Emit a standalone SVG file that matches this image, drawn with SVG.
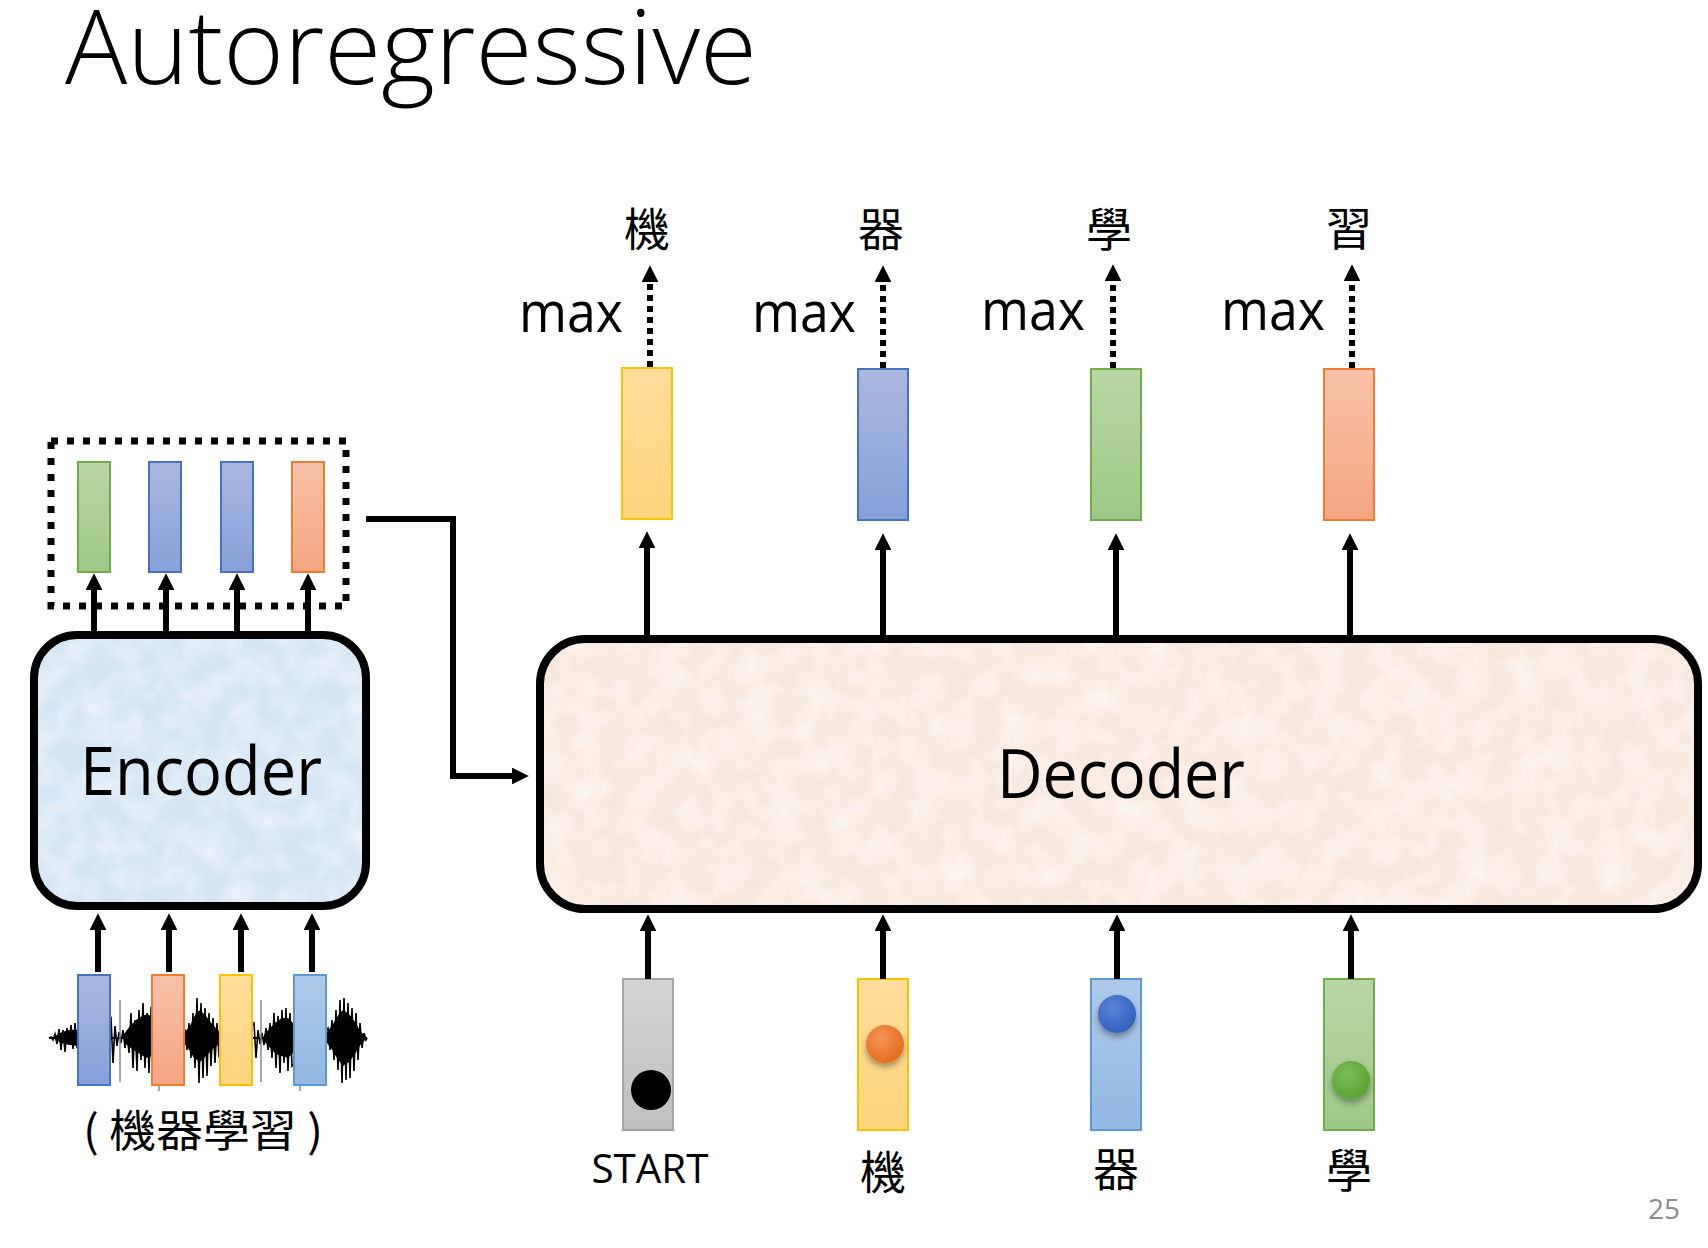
<svg xmlns="http://www.w3.org/2000/svg" width="1708" height="1248" viewBox="0 0 1708 1248">
<style>
.lat { font-family: "Open Sans", "Liberation Sans", sans-serif; fill: #000; }
.cjk { font-family: "Noto Sans CJK TC", "Noto Sans CJK SC", sans-serif; fill: #000; }
.arr { stroke: #000; stroke-width: 6; fill: none; marker-end: url(#ah); }
.dot { stroke: #000; stroke-width: 6; stroke-dasharray: 6 5; fill: none; marker-end: url(#ah); }
.box { stroke: #000; stroke-width: 8; fill: none; }
.bar { stroke-width: 2; }
</style>
<defs>
<marker id="ah" viewBox="0 0 10 10" refX="0" refY="5" markerWidth="2.8" markerHeight="2.8" orient="auto" markerUnits="strokeWidth">
<path d="M0,0 L10,5 L0,10 z" fill="#000"/>
</marker>
<linearGradient id="gGreen" x1="0" y1="0" x2="0" y2="1"><stop offset="0" stop-color="#b9d7a6"/><stop offset="1" stop-color="#9ec887"/></linearGradient>
<linearGradient id="gBlue" x1="0" y1="0" x2="0" y2="1"><stop offset="0" stop-color="#aab8e0"/><stop offset="1" stop-color="#86a0d8"/></linearGradient>
<linearGradient id="gOrange" x1="0" y1="0" x2="0" y2="1"><stop offset="0" stop-color="#f7c2a8"/><stop offset="1" stop-color="#f4a580"/></linearGradient>
<linearGradient id="gYellow" x1="0" y1="0" x2="0" y2="1"><stop offset="0" stop-color="#ffdd9c"/><stop offset="1" stop-color="#ffd57c"/></linearGradient>
<linearGradient id="gLBlue" x1="0" y1="0" x2="0" y2="1"><stop offset="0" stop-color="#afc9e9"/><stop offset="1" stop-color="#93b8e2"/></linearGradient>
<linearGradient id="gGray" x1="0" y1="0" x2="0" y2="1"><stop offset="0" stop-color="#d4d4d4"/><stop offset="1" stop-color="#bfbfbf"/></linearGradient>
<radialGradient id="dOrange" cx="0.4" cy="0.35" r="0.7"><stop offset="0" stop-color="#f39556"/><stop offset="1" stop-color="#e46a17"/></radialGradient>
<radialGradient id="dBlue" cx="0.4" cy="0.35" r="0.7"><stop offset="0" stop-color="#5a82d4"/><stop offset="1" stop-color="#2f5fbd"/></radialGradient>
<radialGradient id="dGreen" cx="0.4" cy="0.35" r="0.7"><stop offset="0" stop-color="#7dbd58"/><stop offset="1" stop-color="#59a133"/></radialGradient>
<filter id="sh" x="-50%" y="-50%" width="200%" height="220%"><feDropShadow dx="0" dy="4" stdDeviation="3" flood-color="#000" flood-opacity="0.35"/></filter>
<filter id="tex" x="0" y="0" width="100%" height="100%">
<feTurbulence type="fractalNoise" baseFrequency="0.035" numOctaves="4" seed="5" result="n"/>
<feColorMatrix in="n" type="matrix" values="0 0 0 0 1  0 0 0 0 1  0 0 0 0 1  0 0 0 0.9 -0.3" result="w"/>
<feComposite in="w" in2="SourceGraphic" operator="in" result="wc"/>
<feMerge><feMergeNode in="SourceGraphic"/><feMergeNode in="wc"/></feMerge>
</filter>
</defs>

<rect width="1708" height="1248" fill="#fff"/>

<text id="title" class="lat" x="65" y="84" font-size="103" font-weight="300" textLength="692" lengthAdjust="spacingAndGlyphs">Autoregressive</text>

<g id="waveform">
<g transform="translate(0,1038)" fill="#000">
<polygon points="55,-2 62,-6 70,-8 78,-8 78,8 70,7 62,5 55,2"/>
<polygon points="124,-4 130,-12 136,-18 142,-22 148,-24 152,-20 152,18 146,20 140,16 134,12 128,8 124,4"/>
<polygon points="184,-5 190,-12 196,-25 200,-28 206,-22 212,-14 218,-8 220,-5 220,5 214,10 206,18 200,24 194,20 188,10 184,5"/>
<polygon points="264,-3 270,-10 276,-16 282,-20 288,-20 294,-14 294,14 288,20 282,18 276,16 270,10 264,3"/>
<polygon points="327,-6 333,-14 339,-24 343,-28 349,-24 355,-16 361,-6 366,-1 366,1 361,6 355,16 349,24 343,28 337,20 331,10 327,5"/>
<polyline fill="none" stroke="#000" stroke-width="1.6" points="49,0 51,-1 53,2 55,-4 57,6 59,-9 61,12 63,-8 65,14 67,-10 69,7 71,-13 73,11 75,-15 77,9 111,-20 113,25 115,-12 117,8 119,-6 121,5 123,-8 125,10 127,-6 129,15 131,-25 133,30 135,-18 137,33 139,-28 141,22 143,-35 145,30 147,-25 149,35 151,-30 185,-8 187,12 189,-15 191,20 193,-25 195,30 197,-40 199,45 201,-35 203,40 205,-30 207,38 209,-25 211,28 213,-20 215,25 217,-15 219,18 254,-15 256,20 258,-8 260,6 262,-5 264,7 266,-10 268,12 270,-15 272,20 274,-25 276,30 278,-22 280,35 282,-28 284,25 286,-30 288,33 290,-25 292,28 328,-10 330,12 332,-18 334,22 336,-28 338,32 340,-38 342,45 344,-40 346,42 348,-35 350,40 352,-30 354,33 356,-25 358,22 360,-15 362,10 364,-5 366,2 367,0"/>
<line x1="49" y1="0" x2="367" y2="0" stroke="#000" stroke-width="2"/>
</g>
<line x1="120" y1="1000" x2="120" y2="1082" stroke="#888" stroke-width="1.5"/>
<line x1="261" y1="1000" x2="261" y2="1082" stroke="#888" stroke-width="1.5"/>
<line x1="159" y1="1085" x2="159" y2="1091" stroke="#888" stroke-width="1.5"/>
<line x1="300" y1="1085" x2="300" y2="1091" stroke="#888" stroke-width="1.5"/>
</g>

<g id="enc-input-bars">
<rect class="bar" x="78" y="975" width="32" height="110" fill="url(#gBlue)" stroke="#4472c4"/>
<rect class="bar" x="152" y="975" width="32" height="110" fill="url(#gOrange)" stroke="#ed7d31"/>
<rect class="bar" x="220" y="975" width="32" height="110" fill="url(#gYellow)" stroke="#ffc000"/>
<rect class="bar" x="294" y="975" width="32" height="110" fill="url(#gLBlue)" stroke="#5b9bd5"/>
</g>
<text id="enc-input-label" class="cjk" x="83" y="1147" font-size="44" textLength="240" lengthAdjust="spacingAndGlyphs">( 機器學習 )</text>

<g id="encoder">
<rect x="34" y="635" width="332" height="271" rx="43" fill="#d4e5f6" filter="url(#tex)"/>
<rect class="box" x="34" y="635" width="332" height="271" rx="43"/>
<text class="lat" x="80" y="795" font-size="67" textLength="242" lengthAdjust="spacingAndGlyphs">Encoder</text>
</g>

<g id="enc-output">
<rect x="51" y="441" width="295" height="165" fill="none" stroke="#000" stroke-width="7" stroke-dasharray="7 9"/>
<rect class="bar" x="78" y="462" width="32" height="110" fill="url(#gGreen)" stroke="#70ad47"/>
<rect class="bar" x="149" y="462" width="32" height="110" fill="url(#gBlue)" stroke="#4472c4"/>
<rect class="bar" x="221" y="462" width="32" height="110" fill="url(#gBlue)" stroke="#4472c4"/>
<rect class="bar" x="292" y="462" width="32" height="110" fill="url(#gOrange)" stroke="#ed7d31"/>
</g>

<g id="decoder">
<rect x="540" y="639" width="1158" height="270" rx="45" fill="#f8e8dd" filter="url(#tex)"/>
<rect class="box" x="540" y="639" width="1158" height="270" rx="45"/>
<text class="lat" x="997" y="798" font-size="67" textLength="248" lengthAdjust="spacingAndGlyphs">Decoder</text>
</g>

<g id="dec-out-1">
<rect class="bar" x="622" y="368" width="50" height="151" fill="url(#gYellow)" stroke="#ffc000"/>
<text class="lat" x="519" y="332" font-size="56" textLength="104" lengthAdjust="spacingAndGlyphs">max</text>
<text class="cjk" x="647" y="246" font-size="46" text-anchor="middle">機</text>
</g>
<g id="dec-out-2">
<rect class="bar" x="858" y="369" width="50" height="151" fill="url(#gBlue)" stroke="#4472c4"/>
<text class="lat" x="752" y="332" font-size="56" textLength="104" lengthAdjust="spacingAndGlyphs">max</text>
<text class="cjk" x="881" y="246" font-size="46" text-anchor="middle">器</text>
</g>
<g id="dec-out-3">
<rect class="bar" x="1091" y="369" width="50" height="151" fill="url(#gGreen)" stroke="#70ad47"/>
<text class="lat" x="981" y="330" font-size="56" textLength="104" lengthAdjust="spacingAndGlyphs">max</text>
<text class="cjk" x="1109" y="246" font-size="46" text-anchor="middle">學</text>
</g>
<g id="dec-out-4">
<rect class="bar" x="1324" y="369" width="50" height="151" fill="url(#gOrange)" stroke="#ed7d31"/>
<text class="lat" x="1221" y="330" font-size="56" textLength="104" lengthAdjust="spacingAndGlyphs">max</text>
<text class="cjk" x="1349" y="245" font-size="46" text-anchor="middle">習</text>
</g>

<g id="dec-in-1">
<rect class="bar" x="623" y="979" width="50" height="151" fill="url(#gGray)" stroke="#a5a5a5"/>
<circle cx="651" cy="1090" r="20" fill="#000"/>
<text class="lat" x="650" y="1183" font-size="41" text-anchor="middle" textLength="117" lengthAdjust="spacingAndGlyphs">START</text>
</g>
<g id="dec-in-2">
<rect class="bar" x="858" y="979" width="50" height="151" fill="url(#gYellow)" stroke="#ffc000"/>
<circle cx="885" cy="1044" r="19" fill="url(#dOrange)" filter="url(#sh)"/>
<text class="cjk" x="883" y="1189" font-size="46" text-anchor="middle">機</text>
</g>
<g id="dec-in-3">
<rect class="bar" x="1091" y="979" width="50" height="151" fill="url(#gLBlue)" stroke="#5b9bd5"/>
<circle cx="1117" cy="1014" r="19" fill="url(#dBlue)" filter="url(#sh)"/>
<text class="cjk" x="1116" y="1186" font-size="46" text-anchor="middle">器</text>
</g>
<g id="dec-in-4">
<rect class="bar" x="1324" y="979" width="50" height="151" fill="url(#gGreen)" stroke="#70ad47"/>
<circle cx="1351" cy="1080" r="19" fill="url(#dGreen)" filter="url(#sh)"/>
<text class="cjk" x="1349" y="1187" font-size="46" text-anchor="middle">學</text>
</g>

<text id="page-number" x="1648" y="1219" font-family="'Open Sans', 'Liberation Sans', sans-serif" font-size="28" fill="#8c8c8c">25</text>

<g id="connectors">
<line class="arr" x1="98" y1="972" x2="98" y2="930"/>
<line class="arr" x1="169" y1="972" x2="169" y2="930"/>
<line class="arr" x1="241" y1="972" x2="241" y2="930"/>
<line class="arr" x1="312" y1="972" x2="312" y2="930"/>
<line class="arr" x1="94" y1="632" x2="94" y2="590"/>
<line class="arr" x1="166" y1="632" x2="166" y2="590"/>
<line class="arr" x1="237" y1="632" x2="237" y2="590"/>
<line class="arr" x1="308" y1="632" x2="308" y2="590"/>
<polyline class="arr" points="366,519 453,519 453,776 512,776"/>
<line class="arr" x1="647" y1="635" x2="647" y2="548"/>
<line class="arr" x1="883" y1="635" x2="883" y2="550"/>
<line class="arr" x1="1116" y1="635" x2="1116" y2="550"/>
<line class="arr" x1="1350" y1="635" x2="1350" y2="550"/>
<line class="arr" x1="648" y1="979" x2="648" y2="931"/>
<line class="arr" x1="883" y1="979" x2="883" y2="931"/>
<line class="arr" x1="1117" y1="979" x2="1117" y2="931"/>
<line class="arr" x1="1351" y1="979" x2="1351" y2="931"/>
<line class="dot" x1="650" y1="367" x2="650" y2="282"/>
<line class="dot" x1="883" y1="368" x2="883" y2="282"/>
<line class="dot" x1="1113" y1="368" x2="1113" y2="281"/>
<line class="dot" x1="1352" y1="368" x2="1352" y2="281"/>
</g>
</svg>
